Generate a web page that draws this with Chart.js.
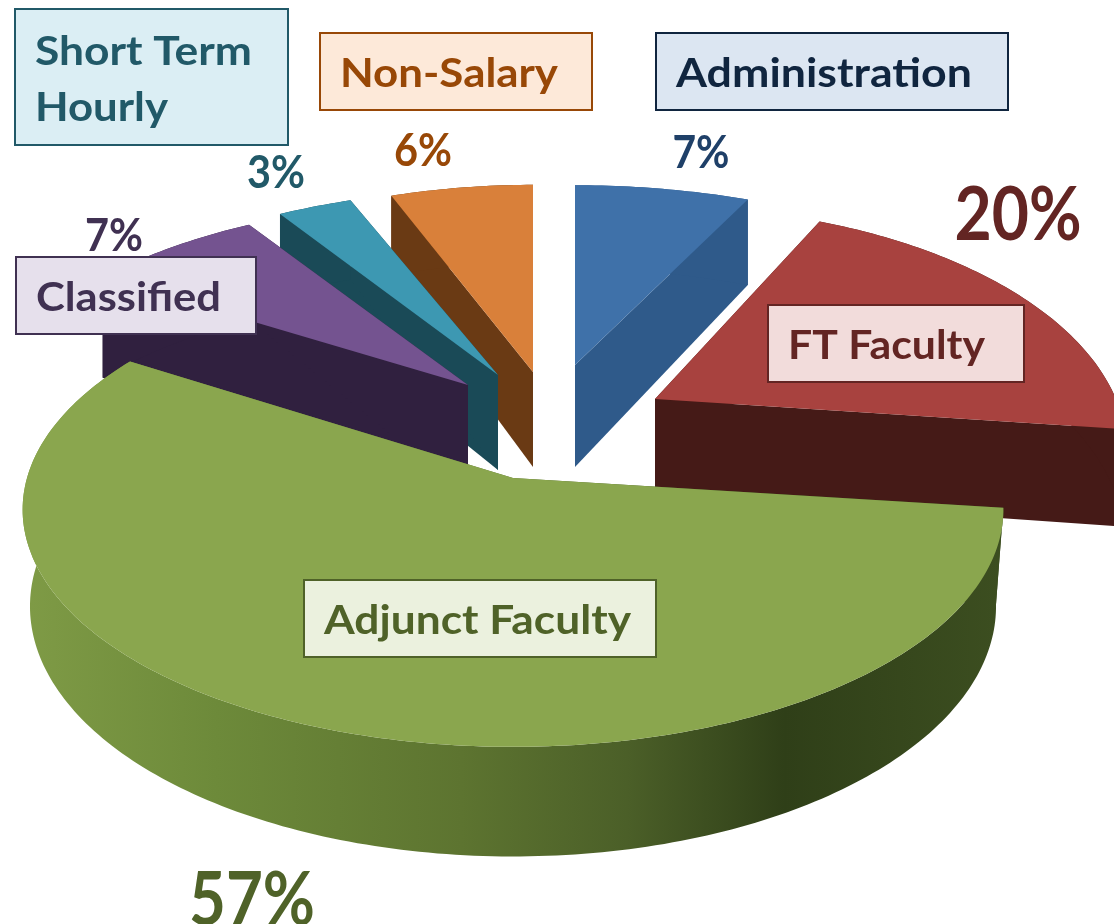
<!DOCTYPE html>
<html><head><meta charset="utf-8">
<style>html,body{margin:0;padding:0;background:#fff;overflow:hidden}canvas{display:block}</style>
<script src="https://cdn.jsdelivr.net/npm/chart.js@4"></script>
</head><body><canvas id="c" width="1114" height="924"></canvas>
<script>
const categories = ['Administration','FT Faculty','Adjunct Faculty','Classified','Short Term Hourly','Non-Salary'];
const shares = [7,20,57,7,3,6];
const percentLabels = ['7%','20%','57%','7%','3%','6%'];
const topColors = ['#3f71a9','#a8423f','#8aa64e','#745390','#3d98b2','#d9803a'];
const wallColors = ['#2f5a8a','#451a17','#5d7530','#30203f','#1a4a57','#6a3a14'];
const labelFill = ['#dce6f2','#f2dcdb','#ebf1de','#e6e0ec','#dbeef4','#fde9d9'];
const labelInk = ['#10253f','#632523','#4f6228','#403152','#215968','#984807'];
const percentInk = ['#1f4068','#632523','#4f6228','#403152','#215968','#984807'];
// Layout of the exploded perspective view (per slice, same order as categories)
const explodeX = [575,655,513,468,498,533];
const explodeY = [365,399,478,385,375,372];
const radiusX = [484,461,486,482,480,461];
const radiusY = [218,234,233,224,225,227];
const thickness = [102,95,95,112,95,95];
const viewDist = [4.7,4.7,7.5,4.7,4.7,4.7];
const paintOrder = [0,5,4,3,1,2];
const labelBoxes = [[656,33,352,77],[768,305,256,77],[304,580,352,77],[16,257,240,77],[15,9,273,136],[320,33,272,77]];
const labelLines = [['Administration'],['FT Faculty'],['Adjunct Faculty'],['Classified'],['Short Term','Hourly'],['Non-Salary']];
const labelAnchor = [[676,74],[788,346],[324,621],[36,298],[35,52],[340,74]];
const labelWidths = [[296],[197],[307],[185],[217,133],[218]];
const percentAnchor = [[701,153,46,57],[1018,216,74,127],[252,901,74,126],[114,236,46,58],[276,173,46,58],[423,151,46,58]];
const FONT = 'Lato';

function pt(i,a,z,k){
  const Y=Math.sin(a),X=Math.cos(a),p=1/(1-Y/viewDist[i]);
  return [explodeX[i]+radiusX[i]*X*p*k, explodeY[i]+radiusY[i]*Y*p+z*thickness[i]*p];
}
function apexPt(i,z){return [explodeX[i],explodeY[i]+z*thickness[i]];}
function poly(ctx,pts,fill){
  ctx.beginPath();pts.forEach((q,n)=>n?ctx.lineTo(q[0],q[1]):ctx.moveTo(q[0],q[1]));ctx.closePath();
  ctx.fillStyle=fill;ctx.fill();
}
function fitText(ctx,t,x,y,w){
  const m=ctx.measureText(t).width;
  ctx.save();ctx.translate(x,y);ctx.scale(w/m,1);ctx.fillText(t,0,0);ctx.restore();
}
const pie3d={id:'pie3d',
  beforeDatasetDraw(){return false;},
  afterDatasetsDraw(chart){
    const ctx=chart.ctx, arcs=chart.getDatasetMeta(0).data;
    ctx.save();
    paintOrder.forEach(i=>{
      const {startAngle:s,endAngle:e}=arcs[i].getProps(['startAngle','endAngle']);
      const n=Math.max(8,Math.round((e-s)*60)), k=i===2?.985:1;
      const rim=z=>{const r=[];for(let j=0;j<=n;j++)r.push(pt(i,s+(e-s)*j/n,z,z?k:1));return r;};
      const t=rim(0),b=rim(1),A=apexPt(i,0),B=apexPt(i,1);
      let wall=wallColors[i];
      if(i===2){
        wall=ctx.createLinearGradient(20,0,1000,0);
        wall.addColorStop(0,'#7f9b46');wall.addColorStop(.2,'#6d8a3a');wall.addColorStop(.45,'#5d7430');
        wall.addColorStop(.62,'#4b5f28');wall.addColorStop(.78,'#2f3f18');wall.addColorStop(1,'#3c4e20');
      }
      poly(ctx,[A,t[0],b[0],B],wall);
      poly(ctx,[A,t[n],b[n],B],wall);
      poly(ctx,[...t,...b.slice().reverse()],wall);
      poly(ctx,[A,...t],topColors[i]);
    });
    ctx.textBaseline='middle';ctx.textAlign='left';
    categories.forEach((name,i)=>{
      const [x,y,w,h]=labelBoxes[i];
      ctx.fillStyle=labelFill[i];ctx.fillRect(x,y,w,h);
      ctx.strokeStyle=labelInk[i];ctx.lineWidth=2;ctx.strokeRect(x,y,w,h);
      ctx.fillStyle=labelInk[i];ctx.font='700 41px '+FONT;
      const [tx,ty]=labelAnchor[i];
      labelLines[i].forEach((line,n)=>fitText(ctx,line,tx,ty+n*56,labelWidths[i][n]));
    });
    percentLabels.forEach((t,i)=>{
      const [x,y,sz,w]=percentAnchor[i];
      ctx.fillStyle=percentInk[i];ctx.font='700 '+sz+'px '+FONT;fitText(ctx,t,x-w/2,y,w);
    });
    ctx.restore();
  }
};
new Chart(document.getElementById('c'),{
  type:'pie',
  data:{labels:categories,datasets:[{data:shares,backgroundColor:topColors,borderWidth:0}]},
  options:{responsive:false,animation:false,rotation:0,
    plugins:{legend:{display:false},tooltip:{enabled:false}},layout:{padding:0}},
  plugins:[pie3d]
});
</script></body></html>
